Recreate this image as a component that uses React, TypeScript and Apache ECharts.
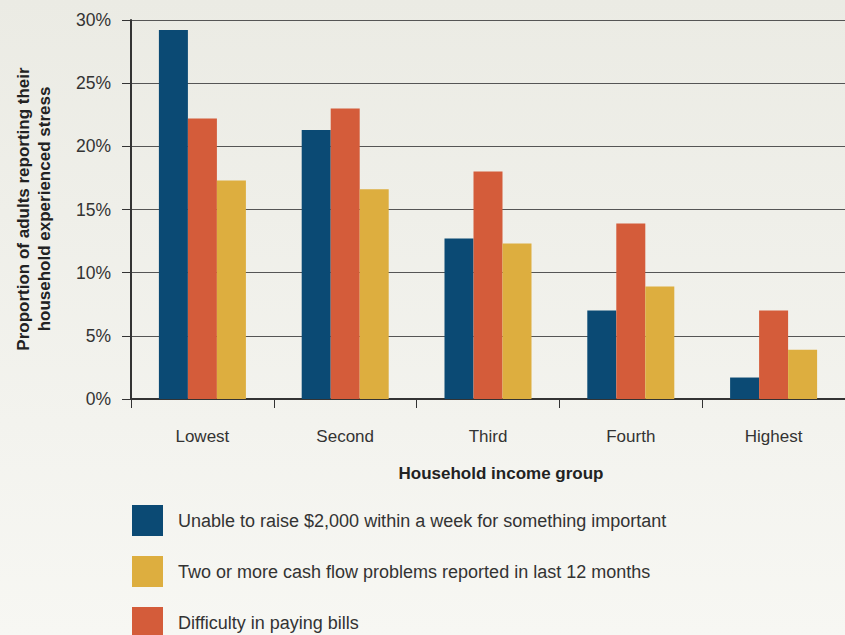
import React, { useEffect, useRef } from "react";
import * as echarts from "echarts";

const categories = ["Lowest", "Second", "Third", "Fourth", "Highest"];
const unableToRaise = [29.2, 21.3, 12.7, 7.0, 1.7];
const difficultyPaying = [22.2, 23.0, 18.0, 13.9, 7.0];
const cashFlowProblems = [17.3, 16.6, 12.3, 8.9, 3.9];
const seriesNames = [
  "Unable to raise $2,000 within a week for something important",
  "Two or more cash flow problems reported in last 12 months",
  "Difficulty in paying bills",
];
const xAxisTitle = "Household income group";
const yAxisTitle = "Proportion of adults reporting their\nhousehold experienced stress";

const FONT = "'Liberation Sans', Arial, sans-serif";
const BLUE = "#0b4a74";
const YELLOW = "#ddae3f";
const RED = "#d45c3a";

export default function App() {
  const ref = useRef<HTMLDivElement>(null);
  useEffect(() => {
    if (!ref.current) return;
    const chart = echarts.init(ref.current, undefined, { renderer: "svg" });
    chart.setOption({
      animation: false,
      backgroundColor: {
        type: "linear",
        x: 0, y: 0, x2: 0, y2: 1,
        colorStops: [
          { offset: 0, color: "#ebebe4" },
          { offset: 1, color: "#f7f7f3" },
        ],
      },
      textStyle: { fontFamily: FONT },
      grid: { left: 131, top: 20, right: -3, bottom: 236 },
      xAxis: {
        type: "category",
        data: categories,
        axisLine: { show: true, lineStyle: { color: "#333", width: 2 } },
        axisTick: { show: true, length: 9, lineStyle: { color: "#333", width: 1 } },
        axisLabel: { margin: 29, fontSize: 17, color: "#333", fontFamily: FONT },
      },
      yAxis: {
        type: "value",
        min: 0,
        max: 30,
        interval: 5,
        axisLine: { show: true, lineStyle: { color: "#333", width: 2 } },
        axisTick: { show: true, length: 9, lineStyle: { color: "#333", width: 1 } },
        axisLabel: { formatter: "{value}%", margin: 20, fontSize: 17.5, color: "#333", fontFamily: FONT },
        splitLine: { show: true, lineStyle: { color: "#555", width: 1 } },
      },
      legend: {
        orient: "vertical",
        left: 132,
        top: 505,
        height: 300,
        padding: 0,
        itemWidth: 31,
        itemHeight: 31,
        itemGap: 20,
        icon: "rect",
        data: seriesNames,
        textStyle: { fontSize: 18, color: "#333", fontFamily: FONT, padding: [0, 0, 0, 10] },
      },
      graphic: [
        {
          type: "text",
          x: 501,
          y: 473,
          style: {
            text: xAxisTitle,
            font: `bold 17px ${FONT}`,
            fill: "#222",
            textAlign: "center",
            textVerticalAlign: "middle",
          },
        },
        {
          type: "text",
          x: 34,
          y: 209,
          rotation: Math.PI / 2,
          style: {
            text: yAxisTitle,
            font: `bold 17px ${FONT}`,
            fill: "#222",
            lineHeight: 21,
            textAlign: "center",
            textVerticalAlign: "middle",
          },
        },
      ],
      series: [
        { name: seriesNames[0], type: "bar", data: unableToRaise, barWidth: 29, barGap: "0%", itemStyle: { color: BLUE } },
        { name: seriesNames[2], type: "bar", data: difficultyPaying, barWidth: 29, barGap: "0%", itemStyle: { color: RED } },
        { name: seriesNames[1], type: "bar", data: cashFlowProblems, barWidth: 29, barGap: "0%", itemStyle: { color: YELLOW } },
      ],
    });
    return () => chart.dispose();
  }, []);
  return (
    <div
      ref={ref}
      style={{ position: "fixed", left: 0, top: 0, width: 845, height: 635 }}
    />
  );
}
